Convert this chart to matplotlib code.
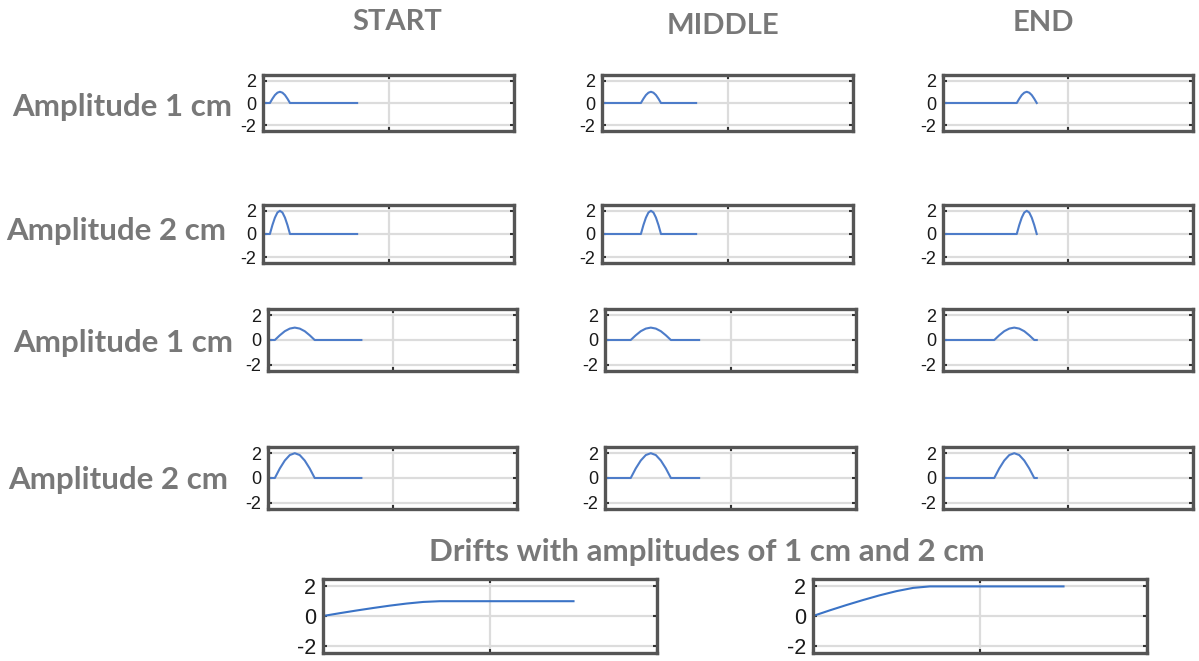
import matplotlib
matplotlib.use("Agg")
import matplotlib.pyplot as plt

plt.rcParams['axes.unicode_minus'] = False

W, H = 1199, 661
TXT = '#787878'
LINE = '#4d7cc9'
SPINE = '#555555'
GRID = '#dcdcdc'
LABEL_FONT = 'Lato'
TICK_FONT = 'Liberation Sans'

columns = ["START", "MIDDLE", "END"]
row_labels = ["Amplitude 1 cm", "Amplitude 2 cm", "Amplitude 1 cm", "Amplitude 2 cm"]
drift_title = "Drifts with amplitudes of 1 cm and 2 cm"

# time samples (s) of the short pulses, one list per pulse position
short_t_start = [0, 0.55, 0.75, 0.95, 1.15, 1.35, 1.55, 1.75, 1.95, 2.15, 7.5]
short_t_middle = [0, 3.1, 3.3, 3.5, 3.7, 3.9, 4.1, 4.3, 4.5, 4.7, 7.5]
short_t_end = [0, 5.9, 6.1, 6.3, 6.5, 6.7, 6.9, 7.1, 7.3, 7.5, 7.5]
# time samples (s) of the long pulses
long_t_start = [0, 0.55, 0.95, 1.35, 1.75, 2.15, 2.55, 2.95, 3.35, 3.75, 7.5]
long_t_middle = [0, 2.05, 2.45, 2.85, 3.25, 3.65, 4.05, 4.45, 4.85, 5.25, 7.5]
long_t_end = [0, 4.1, 4.5, 4.9, 5.3, 5.7, 6.1, 6.5, 6.9, 7.3, 7.5]
# displacement (cm) at those samples
pulse_1cm = [0, 0, 0.38, 0.71, 0.92, 1.0, 0.92, 0.71, 0.38, 0, 0]
pulse_2cm = [0, 0, 0.77, 1.41, 1.85, 2.0, 1.85, 1.41, 0.77, 0, 0]

# drift records
drift_t = [0, 1, 2, 3, 4, 5, 6, 7, 8, 15]
drift_1cm = [0, 0.19, 0.37, 0.54, 0.70, 0.84, 0.95, 1.0, 1.0, 1.0]
drift_2cm = [0, 0.38, 0.74, 1.08, 1.40, 1.68, 1.90, 2.0, 2.0, 2.0]

rows = [
    ([short_t_start, short_t_middle, short_t_end], pulse_1cm),
    ([short_t_start, short_t_middle, short_t_end], pulse_2cm),
    ([long_t_start, long_t_middle, long_t_end], pulse_1cm),
    ([long_t_start, long_t_middle, long_t_end], pulse_2cm),
]

fig = plt.figure(figsize=(W / 100, H / 100), dpi=100)
fig.patch.set_facecolor('white')


def px_axes(l, t, r, b):
    return fig.add_axes([l / W, 1 - b / H, (r - l) / W, (b - t) / H])


def style(ax, fs):
    ax.set_xlim(0, 20)
    ax.set_ylim(-2.5, 2.5)
    ax.set_xticks([0, 10, 20])
    ax.set_yticks([-2, 0, 2])
    ax.set_xticklabels([])
    ax.grid(True, color=GRID, lw=1.6)
    ax.set_axisbelow(True)
    for s in ax.spines.values():
        s.set_color(SPINE)
        s.set_linewidth(2.4)
    ax.tick_params(direction='in', length=3, width=1.5, color='#333333',
                   top=True, right=True, labelsize=fs, pad=5)
    for lab in ax.get_yticklabels():
        lab.set_fontfamily(TICK_FONT)
        lab.set_color('#1a1a1a')


row_y = [(75, 131), (205, 263), (309, 371), (447, 509)]
col_x = [[(263, 514), (602, 853), (943, 1193)],
         [(263, 514), (602, 853), (943, 1193)],
         [(268, 517), (605, 856), (943, 1193)],
         [(268, 517), (605, 856), (943, 1193)]]
label_pos = [(232, 116), (226, 240), (233, 352), (228, 489)]

for i, (times, vals) in enumerate(rows):
    top, bot = row_y[i]
    for j in range(3):
        l, r = col_x[i][j]
        ax = px_axes(l, top, r, bot)
        style(ax, 13)
        ax.plot(times[j], vals, color=LINE, lw=1.5)
    lx, ly = label_pos[i]
    fig.text(lx / W, 1 - ly / H, row_labels[i], ha='right', va='baseline',
             fontsize=22.5, fontweight='bold', color=TXT, family=LABEL_FONT)

for name, cx, by in zip(columns, [397, 723, 1043], [30, 34, 31]):
    fig.text(cx / W, 1 - by / H, name, ha='center', va='baseline',
             fontsize=21, fontweight='bold', color=TXT, family=LABEL_FONT)

fig.text(707 / W, 1 - 561 / H, drift_title, ha='center', va='baseline',
         fontsize=22.5, fontweight='bold', color=TXT, family=LABEL_FONT)

for (l, r), vals in zip([(323, 657), (813, 1147)], [drift_1cm, drift_2cm]):
    ax = px_axes(l, 579, r, 653)
    style(ax, 15.5)
    ax.plot(drift_t, vals, color='#3a73c6', lw=1.5)

fig.savefig("out.png", dpi=100, facecolor='white')
